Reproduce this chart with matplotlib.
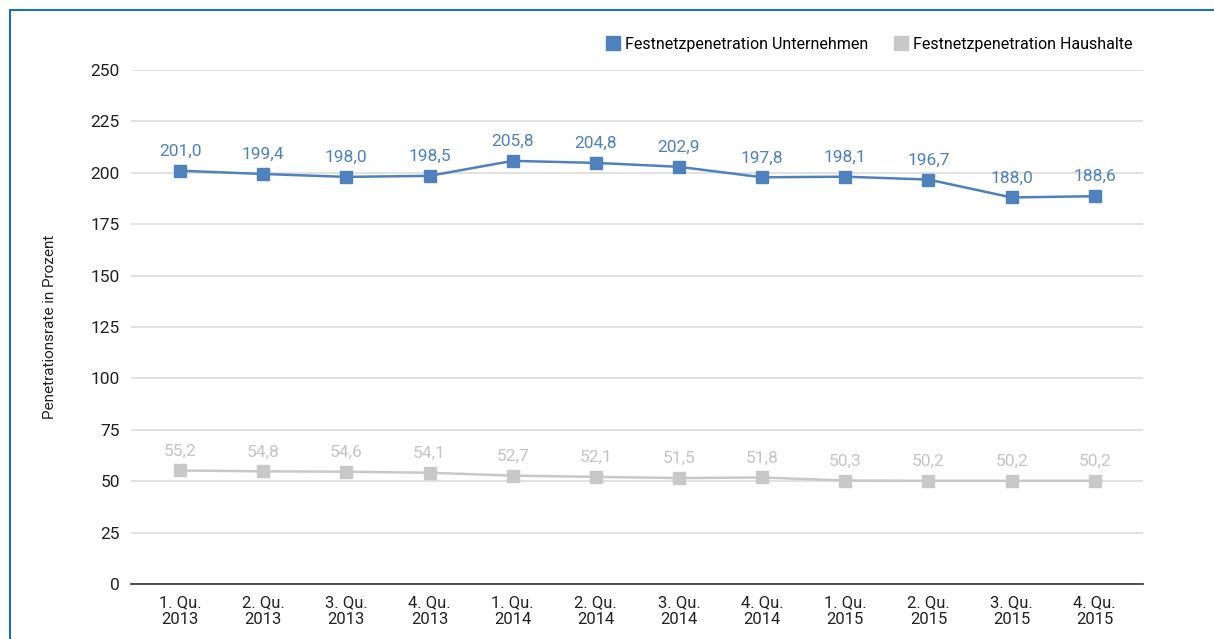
import matplotlib.pyplot as plt
from matplotlib.patches import Rectangle
from matplotlib.lines import Line2D

plt.rcParams['font.family'] = ['Roboto', 'DejaVu Sans']

quarters = ['1. Qu.\n2013', '2. Qu.\n2013', '3. Qu.\n2013', '4. Qu.\n2013',
            '1. Qu.\n2014', '2. Qu.\n2014', '3. Qu.\n2014', '4. Qu.\n2014',
            '1. Qu.\n2015', '2. Qu.\n2015', '3. Qu.\n2015', '4. Qu.\n2015']
unternehmen = [201.0, 199.4, 198.0, 198.5, 205.8, 204.8, 202.9, 197.8, 198.1, 196.7, 188.0, 188.6]
haushalte = [55.2, 54.8, 54.6, 54.1, 52.7, 52.1, 51.5, 51.8, 50.3, 50.2, 50.2, 50.2]

blue = '#4f81bd'
gray = '#c8c8c8'
gray_txt = '#c4c4c4'

fig = plt.figure(figsize=(12.14, 6.39), dpi=100)
ax = fig.add_axes([0.1079, 0.0861, 0.8336, 0.8044])

x = list(range(len(quarters)))
ax.plot(x, unternehmen, color=blue, lw=1.8, marker='s', ms=8.5, zorder=3)
ax.plot(x, haushalte, color=gray, lw=1.8, marker='s', ms=8.5, zorder=3)

for xi, v in zip(x, unternehmen):
    ax.annotate(('%.1f' % v).replace('.', ','), (xi, v), xytext=(0, 14),
                textcoords='offset points', ha='center', va='center',
                color=blue, fontsize=12.5)
for xi, v in zip(x, haushalte):
    ax.annotate(('%.1f' % v).replace('.', ','), (xi, v), xytext=(0, 14),
                textcoords='offset points', ha='center', va='center',
                color=gray_txt, fontsize=12.5)

ax.set_ylim(0, 250)
ax.set_xlim(-0.59, 11.58)
ax.set_yticks(range(0, 251, 25))
ax.set_xticks(x)
ax.set_xticklabels(quarters, fontsize=12, color='#222222', linespacing=1.2)
ax.tick_params(axis='y', labelsize=12.5, colors='#222222', length=0, pad=8)
ax.tick_params(axis='x', length=0, pad=8)
ax.grid(axis='y', color='#dcdcdc', lw=1.2)
ax.set_axisbelow(True)
for s in ['top', 'right', 'left']:
    ax.spines[s].set_visible(False)
ax.spines['bottom'].set_color('#333333')
ax.spines['bottom'].set_linewidth(1.2)
ax.set_ylabel('Penetrationsrate in Prozent', fontsize=11, color='#222222', labelpad=24)

handles = [Line2D([], [], ls='none', marker='s', ms=10.5, color=blue),
           Line2D([], [], ls='none', marker='s', ms=10.5, color=gray)]
fig.legend(handles, ['Festnetzpenetration Unternehmen', 'Festnetzpenetration Haushalte'],
           loc='upper right', bbox_to_anchor=(0.945, 0.965), ncol=2, frameon=False,
           fontsize=11.5, handletextpad=0.3, columnspacing=1.5, handlelength=1.0)

# blue frame around the chart
fig.patches.append(Rectangle((10 / 1214, -0.1), 1.2, 0.1 + 1 - 10 / 639,
                             transform=fig.transFigure, fill=False,
                             edgecolor='#1a6fc4', lw=1.5))

fig.savefig('out.png', dpi=100)
